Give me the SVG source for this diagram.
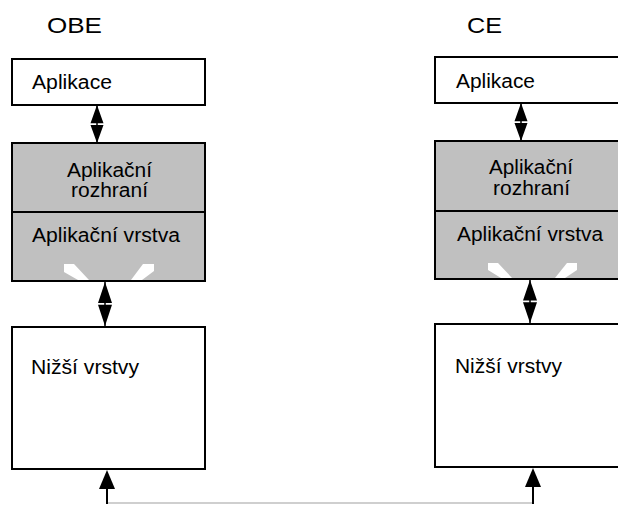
<svg xmlns="http://www.w3.org/2000/svg" width="618" height="505" viewBox="0 0 618 505">
  <style>
    .box { stroke: #000; stroke-width: 2; }
    .plain { fill: #fff; }
    .grey { fill: #c0c0c0; }
    .lbl { font-family: "Liberation Sans", Arial, sans-serif; font-size: 19.5px; fill: #000; }
    .title { font-family: "Liberation Sans", Arial, sans-serif; font-size: 22.5px; fill: #000; }
    .notch { fill: #fff; }
    .shaft { stroke: #000; stroke-width: 1.5; fill: none; }
    .head { fill: #000; }
    .link { stroke: #a0a0a0; stroke-width: 1.2; fill: none; }
    .stem { stroke: #000; stroke-width: 2; fill: none; }
  </style>
  <rect width="618" height="505" fill="#fff"/>

  <text class="title" x="47" y="33" textLength="55" lengthAdjust="spacingAndGlyphs">OBE</text>
  <text class="title" x="467" y="33" textLength="35" lengthAdjust="spacingAndGlyphs">CE</text>

  <!-- OBE stack -->
  <g id="obe-aplikace">
    <rect class="box plain" x="12" y="59" width="193" height="46"/>
    <text class="lbl" x="32" y="89" textLength="80" lengthAdjust="spacingAndGlyphs">Aplikace</text>
  </g>
  <g id="obe-rozhrani">
    <rect class="box grey" x="12" y="143" width="193" height="69"/>
    <text class="lbl" x="67" y="177" textLength="85" lengthAdjust="spacingAndGlyphs">Aplikační</text>
    <text class="lbl" x="71" y="197" textLength="77" lengthAdjust="spacingAndGlyphs">rozhraní</text>
  </g>
  <g id="obe-vrstva">
    <rect class="box grey" x="12" y="212" width="193" height="69"/>
    <text class="lbl" x="32" y="242" textLength="148" lengthAdjust="spacingAndGlyphs">Aplikační vrstva</text>
    <path class="notch" d="M64,264 L74,264 L89,280 L78,280 L64,272 Z"/>
    <path class="notch" d="M143,264 L154,264 L154,271 L142,280 L131,280 Z"/>
  </g>
  <g id="obe-nizsi">
    <rect class="box plain" x="12" y="327" width="193" height="142"/>
    <text class="lbl" x="31" y="374" textLength="108" lengthAdjust="spacingAndGlyphs">Nižší vrstvy</text>
  </g>

  <!-- CE stack -->
  <g id="ce-aplikace">
    <rect class="box plain" x="435" y="57" width="200" height="46"/>
    <text class="lbl" x="456" y="88" textLength="79" lengthAdjust="spacingAndGlyphs">Aplikace</text>
  </g>
  <g id="ce-rozhrani">
    <rect class="box grey" x="435" y="141" width="200" height="70"/>
    <text class="lbl" x="489" y="174" textLength="84" lengthAdjust="spacingAndGlyphs">Aplikační</text>
    <text class="lbl" x="493" y="195" textLength="77" lengthAdjust="spacingAndGlyphs">rozhraní</text>
  </g>
  <g id="ce-vrstva">
    <rect class="box grey" x="435" y="211" width="200" height="68"/>
    <text class="lbl" x="457" y="241" textLength="146" lengthAdjust="spacingAndGlyphs">Aplikační vrstva</text>
    <path class="notch" d="M488,263 L498,263 L512,278 L501,278 L488,270 Z"/>
    <path class="notch" d="M567,263 L577,263 L577,270 L565,278 L555,278 Z"/>
  </g>
  <g id="ce-nizsi">
    <rect class="box plain" x="435" y="324" width="200" height="143"/>
    <text class="lbl" x="455" y="373" textLength="107" lengthAdjust="spacingAndGlyphs">Nižší vrstvy</text>
  </g>

  <!-- connectors: double arrows between layers, link between the lower layers -->
  <g id="connectors">
    <line class="shaft" x1="97" y1="105" x2="97" y2="143"/>
    <path class="head" d="M97,105 L103.5,123.3 L90.5,123.3 Z M90.5,125 L103.5,125 L97,143 Z"/>

    <line class="shaft" x1="105" y1="281" x2="105" y2="327"/>
    <path class="head" d="M105,282 L112,303 L98,303 Z M98,304.7 L112,304.7 L105,326 Z"/>

    <line class="shaft" x1="521" y1="103" x2="521" y2="141"/>
    <path class="head" d="M521,103 L527.5,121.3 L514.5,121.3 Z M514.5,123 L527.5,123 L521,141 Z"/>

    <line class="shaft" x1="530" y1="279" x2="530" y2="324"/>
    <path class="head" d="M530,280 L537,300.5 L523,300.5 Z M523,302.2 L537,302.2 L530,323 Z"/>

    <polyline class="link" points="107,503 533,503"/>
    <line class="stem" x1="107" y1="488" x2="107" y2="504"/>
    <path class="head" d="M107,470 L115,489 L99,489 Z"/>
    <line class="stem" x1="533" y1="486" x2="533" y2="504"/>
    <path class="head" d="M533,468 L541,487 L525,487 Z"/>
  </g>
</svg>
